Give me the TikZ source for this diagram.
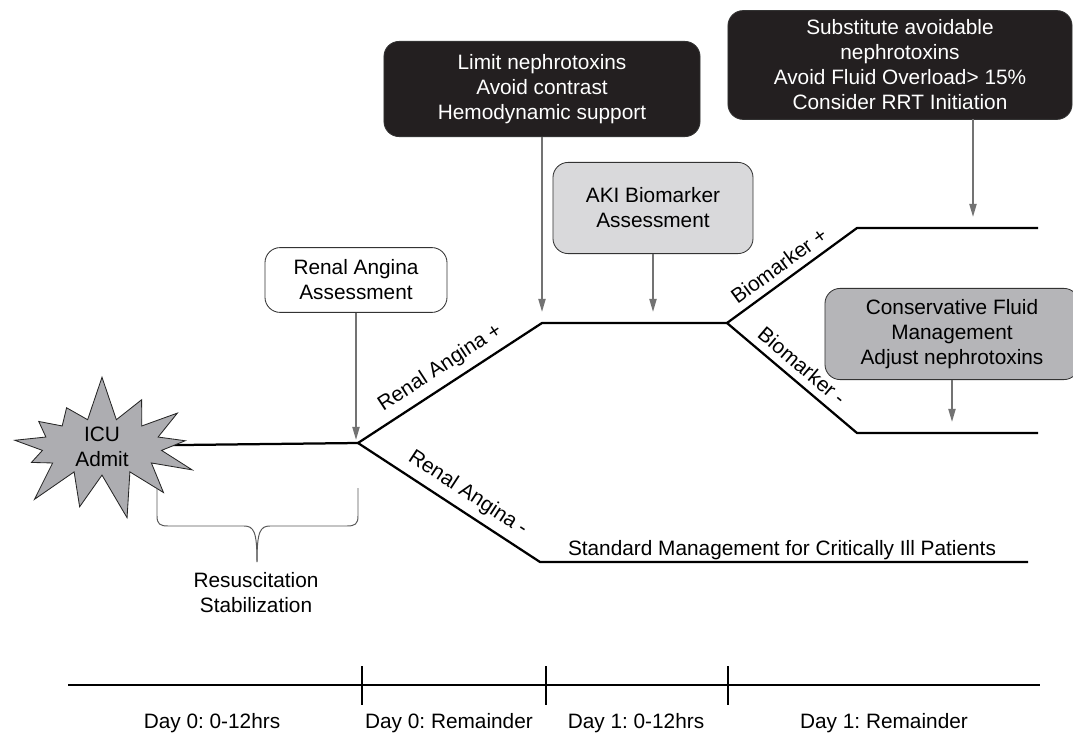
\documentclass[tikz,border=0pt]{standalone}
\usepackage{fontspec}
\setmainfont{Liberation Sans}
\usetikzlibrary{arrows.meta,shapes.symbols}

\definecolor{boxdark}{HTML}{231F20}
\definecolor{boxlight}{HTML}{D9D9DB}
\definecolor{boxmid}{HTML}{B5B5B8}
\definecolor{burst}{HTML}{ADADB1}

\begin{document}
\frenchspacing
\begin{tikzpicture}[x=0.025cm, y=-0.025cm,
	every node/.style={font=\fontsize{14.8}{17.8}\selectfont, align=center, inner sep=0pt},
	>={Triangle[length=3.2mm, width=1.8mm]},
	track/.style={line width=1.6pt},
	note/.style={draw=black!80, line width=0.6pt, rounded corners=0.38cm},
	darknote/.style={note, fill=boxdark, text=white},
	feed/.style={->, draw=black!55, line width=0.9pt, shorten >=0.28cm},
	tag/.style={midway, sloped, above=5pt},
	axis/.style={line width=1.4pt},
	tick/.style={line width=0.8pt}]
	\useasboundingbox (0,0) rectangle (1073,736);

	\coordinate (b0) at (358,443);
	\coordinate (p1) at (542,323);
	\coordinate (p2) at (727,323);
	\coordinate (q1) at (857,228);
	\coordinate (q2) at (1038,228);
	\coordinate (r1) at (857,433);
	\coordinate (r2) at (1038,433);
	\coordinate (m1) at (540,562);
	\coordinate (m2) at (1028,562);

	\node[note, minimum width=4.55cm, minimum height=1.62cm] (ra) at (356,280) {Renal Angina\\Assessment};
	\node[darknote, minimum width=7.9cm, minimum height=2.38cm] (lim) at (542,89) {Limit nephrotoxins\\Avoid contrast\\Hemodynamic support};
	\node[note, fill=boxlight, minimum width=5cm, minimum height=2.28cm] (aki) at (653,208) {AKI Biomarker\\Assessment};
	\node[darknote, minimum width=8.6cm, minimum height=2.72cm] (sub) at (900,65) {Substitute avoidable\\nephrotoxins\\Avoid Fluid Overload> 15\%\\Consider RRT Initiation};
	\node[note, fill=boxmid, minimum width=6.35cm, minimum height=2.28cm] (cons) at (952,334) {Conservative Fluid\\Management\\Adjust nephrotoxins};

	\draw[track] (95,446) -- (b0);
	\node[starburst, draw=black!85, fill=burst, line width=0.6pt, minimum width=5.3cm, minimum height=3.6cm, starburst points=13, starburst point height=1.15cm, random starburst=7] (icu) at (102,447) {ICU\\Admit};

	\draw[track, line join=round] (b0) -- node[tag] {Renal Angina +} (p1) -- (p2);
	\draw[track, line join=round] (b0) -- node[tag, pos=0.55] {Renal Angina -} (m1) -- (m2);
	\draw[track, line join=round] (p2) -- node[tag, pos=0.47] {Biomarker +} (q1) -- (q2);
	\draw[track, line join=round] (p2) -- node[tag] {Biomarker -} (r1) -- (r2);
	\node[anchor=base] (std) at (782,555) {Standard Management for Critically Ill Patients};

	\coordinate (subfoot) at (973,119);
	\draw[feed, shorten >=0.08cm] (ra.south) -- (ra.south |- b0);
	\draw[feed] (lim.south) -- (lim.south |- p1);
	\draw[feed] (aki.south) -- (aki.south |- p1);
	\draw[feed] (subfoot) -- (subfoot |- q1);
	\draw[feed] (cons.south) -- (cons.south |- r1);

	\coordinate (brL) at (157,488);
	\coordinate (brR) at (358,488);
	\coordinate (brT) at (257,562);
	\draw[black!65, line width=0.7pt] (brL) -- (157,516) .. controls (157,524) and (160,526) .. (168,526) -- (244,526) .. controls (254,526) and (257,532) .. (brT);
	\draw[black!65, line width=0.7pt] (brR) -- (358,516) .. controls (358,524) and (355,526) .. (347,526) -- (270,526) .. controls (260,526) and (257,532) .. (brT);
	\node (res) at (256,593) {Resuscitation\\Stabilization};

	\draw[axis] (68,685) -- (1040,685);
	\foreach \t in {362,546,728}
		\draw[tick] (\t,666) -- (\t,705);
	\node[anchor=base] (d1) at (212,728) {Day 0: 0-12hrs};
	\node[anchor=base] (d2) at (449,728) {Day 0: Remainder};
	\node[anchor=base] (d3) at (636,728) {Day 1: 0-12hrs};
	\node[anchor=base] (d4) at (884,728) {Day 1: Remainder};
\end{tikzpicture}
\end{document}
